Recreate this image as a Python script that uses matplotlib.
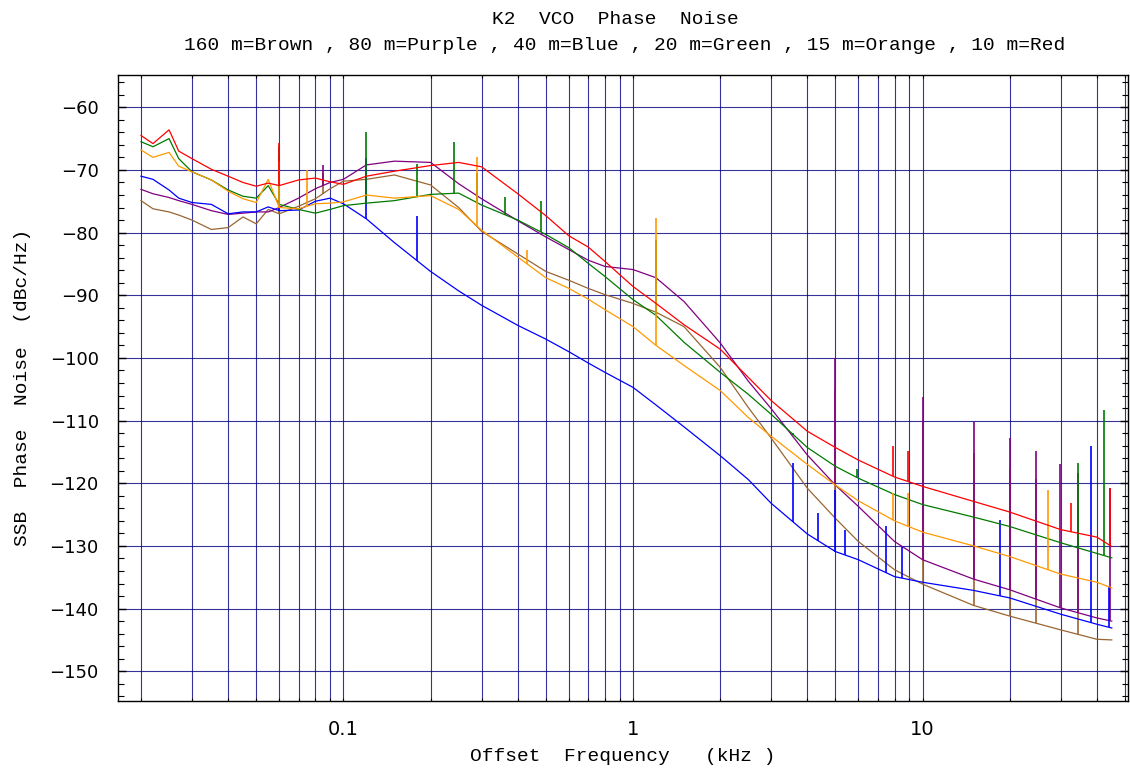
import numpy as np
import matplotlib
matplotlib.use("Agg")
import matplotlib.pyplot as plt
from matplotlib.ticker import NullFormatter

# offset frequency grid (kHz) shared by all six traces
freq_khz = [0.02, 0.022, 0.025, 0.027, 0.03, 0.035, 0.04, 0.045, 0.05, 0.055,
            0.06, 0.07, 0.08, 0.09, 0.1, 0.12, 0.15, 0.2, 0.25, 0.3,
            0.4, 0.5, 0.6, 0.7, 0.8, 1.0, 1.2, 1.5, 2, 2.5,
            3, 4, 5, 6, 8, 10, 15, 20, 30, 40, 45]

# SSB phase noise (dBc/Hz)
brown_db = [-74.9, -76.2, -76.7, -77.2, -78.0, -79.5, -79.2, -77.5, -78.6, -76.3,
            -77.0, -75.8, -74.6, -73.0, -71.8, -71.5, -70.8, -72.4, -76.0, -79.8,
            -83.4, -86.2, -87.6, -88.9, -89.9, -91.3, -92.7, -95.0, -101.5, -107.9,
            -112.8, -120.8, -125.6, -129.3, -133.8, -136.1, -139.5, -141.2, -143.4, -144.9, -145.0]
purple_db = [-73.1, -73.8, -74.4, -74.9, -75.5, -76.5, -77.1, -76.9, -76.7, -76.7,
             -76.0, -74.5, -73.0, -72.0, -71.5, -69.2, -68.6, -68.8, -72.2, -74.6,
             -78.1, -80.7, -82.7, -84.4, -85.4, -85.9, -87.2, -91.0, -97.6, -103.7,
             -108.1, -115.5, -120.3, -123.7, -129.3, -132.2, -135.3, -137.0, -139.9, -141.5, -142.0]
blue_db = [-71.0, -71.5, -73.2, -74.5, -75.2, -75.5, -77.0, -76.7, -76.7, -75.9,
           -76.5, -76.4, -75.0, -74.5, -75.4, -77.8, -81.6, -86.2, -89.3, -91.6,
           -94.8, -97.0, -99.0, -100.8, -102.3, -104.7, -107.5, -111.0, -115.6, -119.4,
           -123.2, -128.1, -130.9, -132.2, -134.9, -135.8, -137.1, -138.3, -140.9, -142.5, -143.1]
green_db = [-65.5, -66.3, -65.0, -68.2, -70.3, -71.6, -73.2, -74.2, -74.5, -72.5,
            -75.5, -76.3, -76.9, -76.3, -75.7, -75.3, -74.9, -73.9, -73.7, -75.6,
            -78.0, -80.3, -82.4, -84.9, -87.0, -90.7, -93.2, -97.5, -102.3, -105.8,
            -109.0, -114.3, -117.3, -119.2, -121.8, -123.4, -125.4, -126.9, -129.5, -131.2, -131.9]
orange_db = [-66.8, -68.0, -67.2, -69.4, -70.3, -71.6, -73.4, -74.6, -75.2, -71.5,
             -76.0, -76.2, -75.4, -75.3, -75.1, -74.0, -74.5, -74.1, -76.3, -79.6,
             -83.9, -87.2, -88.9, -90.6, -92.3, -95.0, -98.0, -101.2, -105.2, -109.5,
             -112.5, -117.0, -120.3, -122.8, -126.0, -127.8, -130.0, -131.7, -134.5, -135.8, -136.7]
red_db = [-64.5, -65.8, -63.6, -67.0, -68.2, -69.9, -71.0, -72.0, -72.6, -72.1,
          -72.5, -71.6, -71.3, -71.9, -72.3, -71.0, -70.2, -69.3, -68.8, -69.5,
          -73.8, -77.3, -80.5, -82.3, -84.6, -88.6, -91.3, -94.7, -98.6, -103.1,
          -106.8, -111.7, -114.3, -116.3, -119.0, -120.5, -122.9, -124.6, -127.4, -128.6, -130.1]

# spurs: frequency (kHz) and peak level (dBc/Hz)
brown_spur_f = [0.06, 0.085, 5, 10, 15, 20, 24.7, 34.5]
brown_spur_db = [-72.5, -70.5, -105.1, -109.9, -115.2, -117.8, -119.4, -124.0]
purple_spur_f = [0.06, 0.085, 5, 10, 15, 20, 24.7, 29.7, 34.5, 44.2]
purple_spur_db = [-71.6, -69.2, -100.0, -106.2, -110.2, -112.8, -114.9, -117.0, -118.4, -120.8]
blue_spur_f = [0.06, 0.12, 0.18, 3.58, 4.36, 5.0, 5.4, 7.5, 8.5, 18.5, 38.1, 44.0]
blue_spur_db = [-68.0, -68.1, -77.4, -116.8, -124.8, -121.0, -127.4, -126.9, -130.1, -125.8, -114.1, -136.5]
green_spur_f = [0.06, 0.12, 0.18, 0.24, 0.29, 0.36, 0.48, 1.2, 3.58, 5.93, 34.4, 42.2]
green_spur_db = [-66.3, -63.9, -69.0, -65.5, -70.5, -74.3, -75.0, -81.2, -112.0, -117.8, -116.8, -108.3]
orange_spur_f = [0.06, 0.075, 0.29, 0.43, 1.2, 7.9, 8.9, 27.2]
orange_spur_db = [-68.5, -70.0, -67.9, -82.8, -77.7, -121.5, -121.5, -121.0]
red_spur_f = [0.06, 7.9, 8.9, 32.5, 44.2]
red_spur_db = [-65.7, -114.1, -114.9, -123.1, -120.7]

series = [
    ("#996633", brown_db, brown_spur_f, brown_spur_db),
    ("#800080", purple_db, purple_spur_f, purple_spur_db),
    ("#0000ff", blue_db, blue_spur_f, blue_spur_db),
    ("#007a00", green_db, green_spur_f, green_spur_db),
    ("#ff9900", orange_db, orange_spur_f, orange_spur_db),
    ("#ff0000", red_db, red_spur_f, red_spur_db),
]

mono = "Liberation Mono"
fig = plt.figure(figsize=(11.3, 7.7), dpi=100)
ax = fig.add_axes([0.1047, 0.09, 0.8931, 0.8126])

logf = np.log10(freq_khz)
for color, vals, sf, sdb in series:
    ax.plot(freq_khz, vals, color=color, lw=0.9, zorder=3)
    base = np.interp(np.log10(sf), logf, vals)
    ax.vlines(sf, base, sdb, color=color, lw=1.2, zorder=3)

ax.set_xscale("log")
ax.set_xlim(0.0167, 51)
ax.set_ylim(-154.7, -54.85)

ax.set_xticks([0.1, 1, 10], labels=["0.1", "1", "10"])
minor_x = [0.02, 0.03, 0.04, 0.05, 0.06, 0.07, 0.08, 0.09,
           0.2, 0.3, 0.4, 0.5, 0.6, 0.7, 0.8, 0.9,
           2, 3, 4, 5, 6, 7, 8, 9, 20, 30, 40, 50]
ax.set_xticks(minor_x, minor=True)
ax.xaxis.set_minor_formatter(NullFormatter())
ax.set_yticks(np.arange(-150, -59, 10))
ax.set_yticks(np.arange(-154, -55, 2), minor=True)

ax.grid(True, which="both", axis="x", color="#000080", lw=0.8, alpha=0.8, zorder=1)
ax.grid(True, which="major", axis="y", color="#000080", lw=0.8, alpha=0.8, zorder=1)
ax.set_axisbelow(True)

ax.tick_params(axis="both", which="both", direction="in", top=True, right=True)
ax.tick_params(axis="y", which="major", length=6, width=1, labelsize=13, pad=14)
ax.tick_params(axis="y", which="minor", length=4, width=0.8)
ax.tick_params(axis="x", which="both", length=2.5, width=0.8, labelsize=14, pad=14)
for s in ax.spines.values():
    s.set_linewidth(1.0)

ax.set_xlabel("Offset  Frequency   (kHz )", fontsize=14, family=mono)
ax.xaxis.set_label_coords(0.5, -0.076)
ax.xaxis.label.set_va("top")
ax.set_ylabel("SSB  Phase  Noise  (dBc/Hz)", fontsize=14, family=mono)
ax.yaxis.set_label_coords(-0.087, 0.5)

fig.text(0.545, 0.9753, "K2  VCO  Phase  Noise", ha="center", va="center",
         fontsize=14, family=mono)
fig.text(0.553, 0.9403,
         "160 m=Brown , 80 m=Purple , 40 m=Blue , 20 m=Green , 15 m=Orange , 10 m=Red",
         ha="center", va="center", fontsize=14, family=mono)

fig.savefig("out.png", dpi=100)
